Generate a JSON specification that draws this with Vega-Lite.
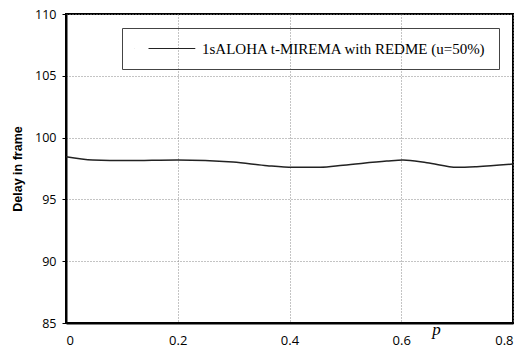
{
  "$schema": "https://vega.github.io/schema/vega-lite/v6.json",
  "width": 447,
  "height": 309,
  "autosize": {"type": "none"},
  "padding": {"left": 66, "top": 14, "right": 11, "bottom": 29},
  "background": "white",
  "data": {
    "values": [
      {"p": 0.0, "delay": 98.45, "series": "1sALOHA t-MIREMA with REDME (u=50%)"},
      {"p": 0.048, "delay": 98.19, "series": "1sALOHA t-MIREMA with REDME (u=50%)"},
      {"p": 0.109, "delay": 98.14, "series": "1sALOHA t-MIREMA with REDME (u=50%)"},
      {"p": 0.199, "delay": 98.19, "series": "1sALOHA t-MIREMA with REDME (u=50%)"},
      {"p": 0.299, "delay": 98.03, "series": "1sALOHA t-MIREMA with REDME (u=50%)"},
      {"p": 0.36, "delay": 97.73, "series": "1sALOHA t-MIREMA with REDME (u=50%)"},
      {"p": 0.406, "delay": 97.6, "series": "1sALOHA t-MIREMA with REDME (u=50%)"},
      {"p": 0.455, "delay": 97.6, "series": "1sALOHA t-MIREMA with REDME (u=50%)"},
      {"p": 0.496, "delay": 97.76, "series": "1sALOHA t-MIREMA with REDME (u=50%)"},
      {"p": 0.574, "delay": 98.1, "series": "1sALOHA t-MIREMA with REDME (u=50%)"},
      {"p": 0.603, "delay": 98.19, "series": "1sALOHA t-MIREMA with REDME (u=50%)"},
      {"p": 0.646, "delay": 97.97, "series": "1sALOHA t-MIREMA with REDME (u=50%)"},
      {"p": 0.7, "delay": 97.6, "series": "1sALOHA t-MIREMA with REDME (u=50%)"},
      {"p": 0.735, "delay": 97.65, "series": "1sALOHA t-MIREMA with REDME (u=50%)"},
      {"p": 0.8, "delay": 97.86, "series": "1sALOHA t-MIREMA with REDME (u=50%)"}
    ]
  },
  "mark": {"type": "line", "strokeWidth": 1.5, "interpolate": "monotone"},
  "encoding": {
    "x": {
      "field": "p",
      "type": "quantitative",
      "scale": {"domain": [0, 0.8], "nice": false},
      "axis": {
        "values": [0, 0.2, 0.4, 0.6, 0.8],
        "format": "~g",
        "title": "p",
        "titleFont": "Liberation Serif",
        "titleFontStyle": "italic",
        "titleFontWeight": "normal",
        "titleFontSize": 17,
        "titleColor": "black",
        "titleX": 370,
        "titleY": 11,
        "titleAlign": "center",
        "titleBaseline": "alphabetic",
        "labelFont": "Open Sans",
        "labelFontSize": 13,
        "labelColor": "black",
        "labelPadding": 11,
        "tickSize": 0,
        "domainColor": "black",
        "domainWidth": 2,
        "gridColor": "#888888",
        "gridDash": [1, 2],
        "gridWidth": 1
      }
    },
    "y": {
      "field": "delay",
      "type": "quantitative",
      "scale": {"domain": [85, 110], "nice": false, "zero": false},
      "axis": {
        "values": [85, 90, 95, 100, 105, 110],
        "title": "Delay in frame",
        "titleFont": "Liberation Sans",
        "titleFontWeight": "bold",
        "titleFontSize": 12.5,
        "titleColor": "black",
        "titlePadding": 10,
        "labelFont": "Open Sans",
        "labelFontSize": 12.5,
        "labelColor": "black",
        "labelPadding": 6,
        "tickSize": 4,
        "tickColor": "black",
        "domainColor": "black",
        "domainWidth": 2,
        "gridColor": "#888888",
        "gridDash": [1, 2],
        "gridWidth": 1
      }
    },
    "color": {
      "field": "series",
      "type": "nominal",
      "scale": {"range": ["#222222"]},
      "legend": {
        "title": null,
        "orient": "none",
        "legendX": 56,
        "legendY": 14,
        "direction": "vertical",
        "strokeColor": "#444444",
        "padding": 12,
        "symbolType": "M-1,0L-0.99,0M0.75,0H6.6",
        "symbolSize": 256,
        "symbolStrokeWidth": 1,
        "labelFont": "Liberation Serif",
        "labelFontSize": 15,
        "labelColor": "black",
        "labelLimit": 400,
        "labelOffset": 51
      }
    }
  },
  "config": {
    "view": {"stroke": "black", "strokeWidth": 2}
  }
}
